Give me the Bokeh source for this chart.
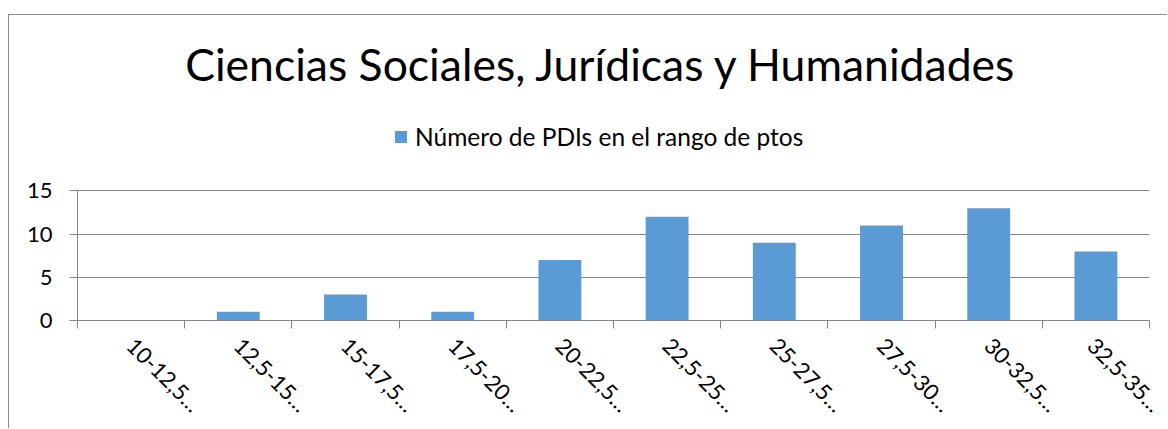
import math
from bokeh.plotting import figure
from bokeh.models import FixedTicker, Legend, LegendItem, Range1d, Label
from bokeh.embed import file_html
from bokeh.resources import INLINE

categories = ["10-12,5…", "12,5-15…", "15-17,5…", "17,5-20…", "20-22,5…",
              "22,5-25…", "25-27,5…", "27,5-30…", "30-32,5…", "32,5-35…"]
counts = [0, 1, 3, 1, 7, 12, 9, 11, 13, 8]
y_ticks = [0, 5, 10, 15]
title_text = "Ciencias Sociales, Jurídicas y Humanidades"
series_name = "Número de PDIs en el rango de ptos"

FONT = "Lato"
GRAY = "#868686"
BAR = "#5B9BD5"

W, H = 1159, 414
BL, BR, BB = 68, 19, 108
FH = H - BB            # frame height (frame reaches the top of the canvas)
AXIS_PX = 130          # pixel height of the 0..15 value band
Y_MAX = 15
y_top = FH / AXIS_PX * Y_MAX

xc = [i + 0.5 for i in range(len(categories))]

p = figure(width=W, height=H, output_backend="svg", toolbar_location=None,
           x_range=Range1d(0, len(categories)), y_range=Range1d(0, y_top),
           min_border_left=BL, min_border_right=BR, min_border_top=0, min_border_bottom=BB,
           styles={"margin-left": "8px", "margin-top": "14px",
                   "border-left": "1px solid #8c8c8c", "border-top": "1px solid #8c8c8c"})

r = p.vbar(x=xc, top=counts, width=0.4, fill_color=BAR, line_color=None)

p.add_layout(Label(x=524, y=FH - 49, x_units="screen", y_units="screen", text=title_text,
                   text_align="center", text_baseline="alphabetic",
                   text_font=FONT, text_font_size="44.5px", text_color="black"))

legend = Legend(items=[LegendItem(label=series_name, renderers=[r])],
                orientation="horizontal", location=(316, FH - 137),
                border_line_color=None, background_fill_alpha=0,
                label_text_font=FONT, label_text_font_size="24.5px", label_text_color="black",
                glyph_width=15, glyph_height=15, label_standoff=7,
                margin=0, padding=0)
p.add_layout(legend, "center")

p.outline_line_color = None

# y axis
p.yaxis.ticker = FixedTicker(ticks=y_ticks)
p.yaxis.bounds = (0, Y_MAX)
p.yaxis.axis_line_color = GRAY
p.yaxis.major_tick_line_color = GRAY
p.yaxis.major_tick_out = 8
p.yaxis.major_tick_in = 0
p.yaxis.minor_tick_line_color = None
p.yaxis.major_label_text_font = FONT
p.yaxis.major_label_text_font_size = "22px"
p.yaxis.major_label_text_color = "black"
p.yaxis.major_label_standoff = 17

# x axis
p.xaxis.ticker = FixedTicker(ticks=xc, minor_ticks=list(range(len(categories) + 1)))
p.xaxis.major_label_overrides = {v: c for v, c in zip(xc, categories)}
p.xaxis.axis_line_color = GRAY
p.xaxis.major_tick_line_color = None
p.xaxis.major_tick_out = 0
p.xaxis.major_tick_in = 0
p.xaxis.minor_tick_line_color = GRAY
p.xaxis.minor_tick_out = 8
p.xaxis.minor_tick_in = 0
p.xaxis.major_label_orientation = -math.pi / 4
p.xaxis.major_label_text_font = FONT
p.xaxis.major_label_text_font_size = "22px"
p.xaxis.major_label_text_color = "black"
p.xaxis.major_label_standoff = 13

p.xgrid.visible = False
p.ygrid.ticker = FixedTicker(ticks=y_ticks)
p.ygrid.grid_line_color = GRAY

open("out.html", "w").write(file_html(p, INLINE))
